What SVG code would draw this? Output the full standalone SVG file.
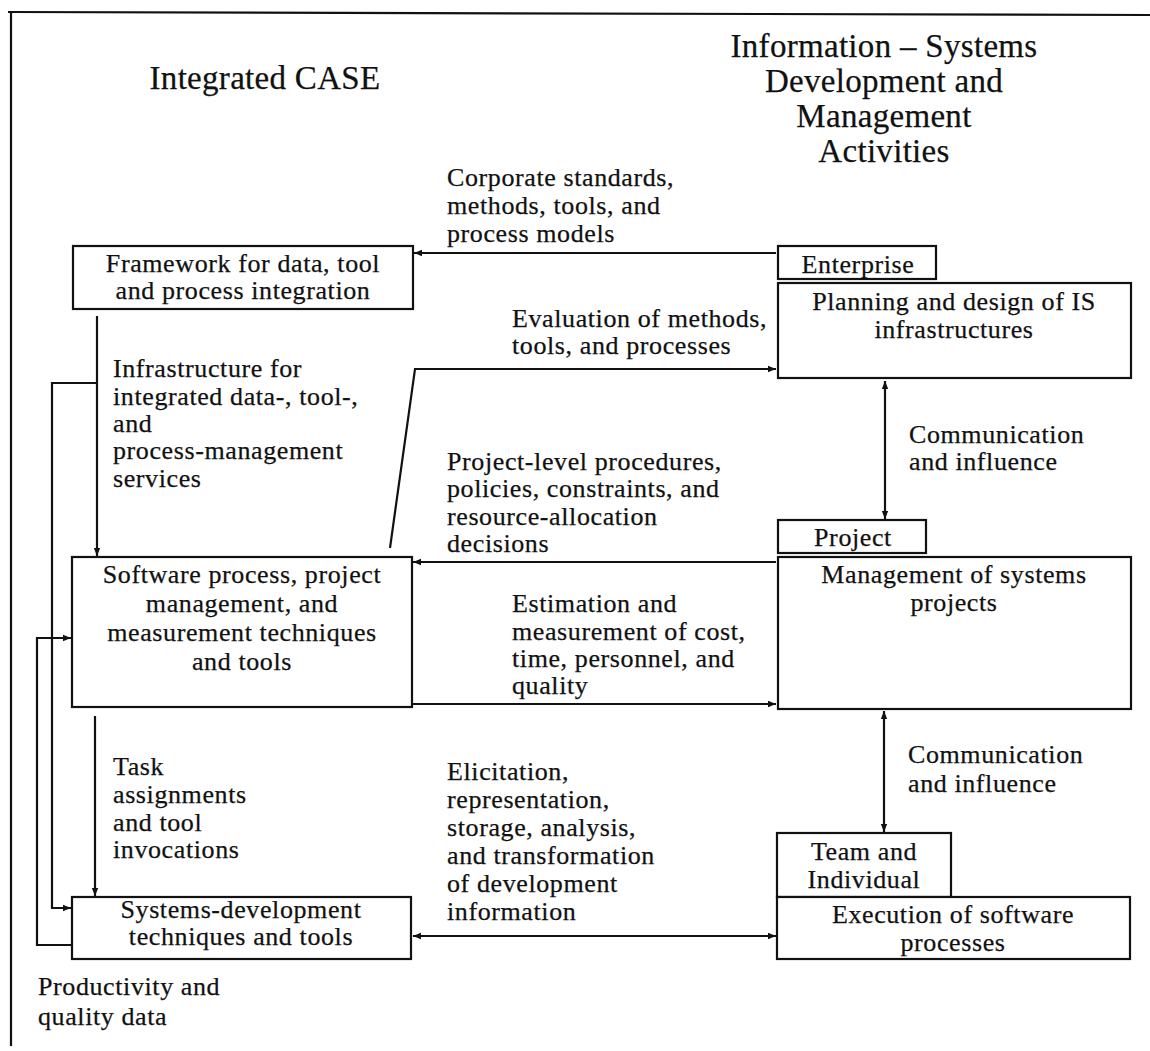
<svg xmlns="http://www.w3.org/2000/svg" width="1150" height="1051" viewBox="0 0 1150 1051">
  <style>
    .bg { fill: #ffffff; }
    .box { fill: #ffffff; stroke: #111111; stroke-width: 2.2; }
    .line { fill: none; stroke: #111111; stroke-width: 2.2; }
    text { font-family: "Liberation Serif", "Times New Roman", serif; fill: #111111; stroke: #111111; stroke-width: 0.25; }
    .t { font-size: 26px; letter-spacing: 0.6px; }
    .title { font-size: 33px; letter-spacing: 0.3px; }
    .c { text-anchor: middle; }
  </style>
  <defs>
    <marker id="arrow" viewBox="0 0 10 10" refX="10" refY="5" markerWidth="12" markerHeight="8" markerUnits="userSpaceOnUse" orient="auto-start-reverse">
      <path d="M0,1 L10,5 L0,9 Z" fill="#111111"/>
    </marker>
  </defs>

  <rect class="bg" x="0" y="0" width="1150" height="1051"/>

  <!-- outer frame: top and left edges only -->
  <g id="frame">
    <path class="line" d="M8,12 L1150,15"/>
    <path class="line" d="M11,11 L11,1046"/>
  </g>

  <!-- column headings -->
  <g id="headings">
    <text class="title c" x="265" y="89">Integrated CASE</text>
    <text class="title c" x="884" y="57">Information – Systems</text>
    <text class="title c" x="884" y="92">Development and</text>
    <text class="title c" x="884" y="127">Management</text>
    <text class="title c" x="884" y="162">Activities</text>
  </g>

  <!-- Integrated CASE column -->
  <g id="framework">
    <rect class="box" x="73" y="246" width="340" height="63"/>
    <text class="t c" x="243" y="272">Framework for data, tool</text>
    <text class="t c" x="243" y="299">and process integration</text>
  </g>

  <g id="software-process">
    <rect class="box" x="72" y="557" width="340" height="150"/>
    <text class="t c" x="242" y="583">Software process, project</text>
    <text class="t c" x="242" y="612">management, and</text>
    <text class="t c" x="242" y="641">measurement techniques</text>
    <text class="t c" x="242" y="670">and tools</text>
  </g>

  <g id="systems-development">
    <rect class="box" x="72" y="897" width="339" height="62"/>
    <text class="t c" x="241" y="918">Systems-development</text>
    <text class="t c" x="241" y="945">techniques and tools</text>
  </g>

  <!-- IS development and management column -->
  <g id="enterprise">
    <rect class="box" x="778" y="246" width="158" height="33"/>
    <text class="t c" x="858" y="273">Enterprise</text>
  </g>

  <g id="planning">
    <rect class="box" x="778" y="283" width="353" height="95"/>
    <text class="t c" x="954" y="310">Planning and design of IS</text>
    <text class="t c" x="954" y="338">infrastructures</text>
  </g>

  <g id="project">
    <rect class="box" x="778" y="520" width="148" height="33"/>
    <text class="t c" x="853" y="546">Project</text>
  </g>

  <g id="management">
    <rect class="box" x="778" y="557" width="353" height="152"/>
    <text class="t c" x="954" y="583">Management of systems</text>
    <text class="t c" x="954" y="611">projects</text>
  </g>

  <g id="team">
    <rect class="box" x="777" y="833" width="174" height="64"/>
    <text class="t c" x="864" y="860">Team and</text>
    <text class="t c" x="864" y="888">Individual</text>
  </g>

  <g id="execution">
    <rect class="box" x="777" y="897" width="353" height="62"/>
    <text class="t c" x="953" y="923">Execution of software</text>
    <text class="t c" x="953" y="951">processes</text>
  </g>

  <!-- connectors -->
  <g id="connectors">
    <path class="line" d="M776,253 L414,253" marker-end="url(#arrow)"/>
    <path class="line" d="M97,316 L97,556" marker-end="url(#arrow)"/>
    <path class="line" d="M97,383 L52,383 L52,908 L71,908" marker-end="url(#arrow)"/>
    <path class="line" d="M390,548 L415,369 L776,369" marker-end="url(#arrow)"/>
    <path class="line" d="M776,562 L413,562" marker-end="url(#arrow)"/>
    <path class="line" d="M412,704 L776,704" marker-end="url(#arrow)"/>
    <path class="line" d="M885,381 L885,519" marker-start="url(#arrow)" marker-end="url(#arrow)"/>
    <path class="line" d="M884,711 L884,832" marker-start="url(#arrow)" marker-end="url(#arrow)"/>
    <path class="line" d="M95,716 L95,896" marker-end="url(#arrow)"/>
    <path class="line" d="M413,936 L776,936" marker-start="url(#arrow)" marker-end="url(#arrow)"/>
    <path class="line" d="M72,945 L37,945 L37,638 L71,638" marker-end="url(#arrow)"/>
  </g>

  <!-- connector labels -->
  <g id="labels">
    <text class="t" x="447" y="186">Corporate standards,</text>
    <text class="t" x="447" y="214">methods, tools, and</text>
    <text class="t" x="447" y="242">process models</text>

    <text class="t" x="512" y="327">Evaluation of methods,</text>
    <text class="t" x="512" y="354">tools, and processes</text>

    <text class="t" x="113" y="377">Infrastructure for</text>
    <text class="t" x="113" y="405">integrated data-, tool-,</text>
    <text class="t" x="113" y="432">and</text>
    <text class="t" x="113" y="459">process-management</text>
    <text class="t" x="113" y="487">services</text>

    <text class="t" x="909" y="443">Communication</text>
    <text class="t" x="909" y="470">and influence</text>

    <text class="t" x="447" y="470">Project-level procedures,</text>
    <text class="t" x="447" y="497">policies, constraints, and</text>
    <text class="t" x="447" y="525">resource-allocation</text>
    <text class="t" x="447" y="552">decisions</text>

    <text class="t" x="512" y="612">Estimation and</text>
    <text class="t" x="512" y="640">measurement of cost,</text>
    <text class="t" x="512" y="667">time, personnel, and</text>
    <text class="t" x="512" y="694">quality</text>

    <text class="t" x="908" y="763">Communication</text>
    <text class="t" x="908" y="792">and influence</text>

    <text class="t" x="113" y="775">Task</text>
    <text class="t" x="113" y="803">assignments</text>
    <text class="t" x="113" y="831">and tool</text>
    <text class="t" x="113" y="858">invocations</text>

    <text class="t" x="447" y="780">Elicitation,</text>
    <text class="t" x="447" y="808">representation,</text>
    <text class="t" x="447" y="836">storage, analysis,</text>
    <text class="t" x="447" y="864">and transformation</text>
    <text class="t" x="447" y="892">of development</text>
    <text class="t" x="447" y="920">information</text>

    <text class="t" x="38" y="995">Productivity and</text>
    <text class="t" x="38" y="1025">quality data</text>
  </g>
</svg>
